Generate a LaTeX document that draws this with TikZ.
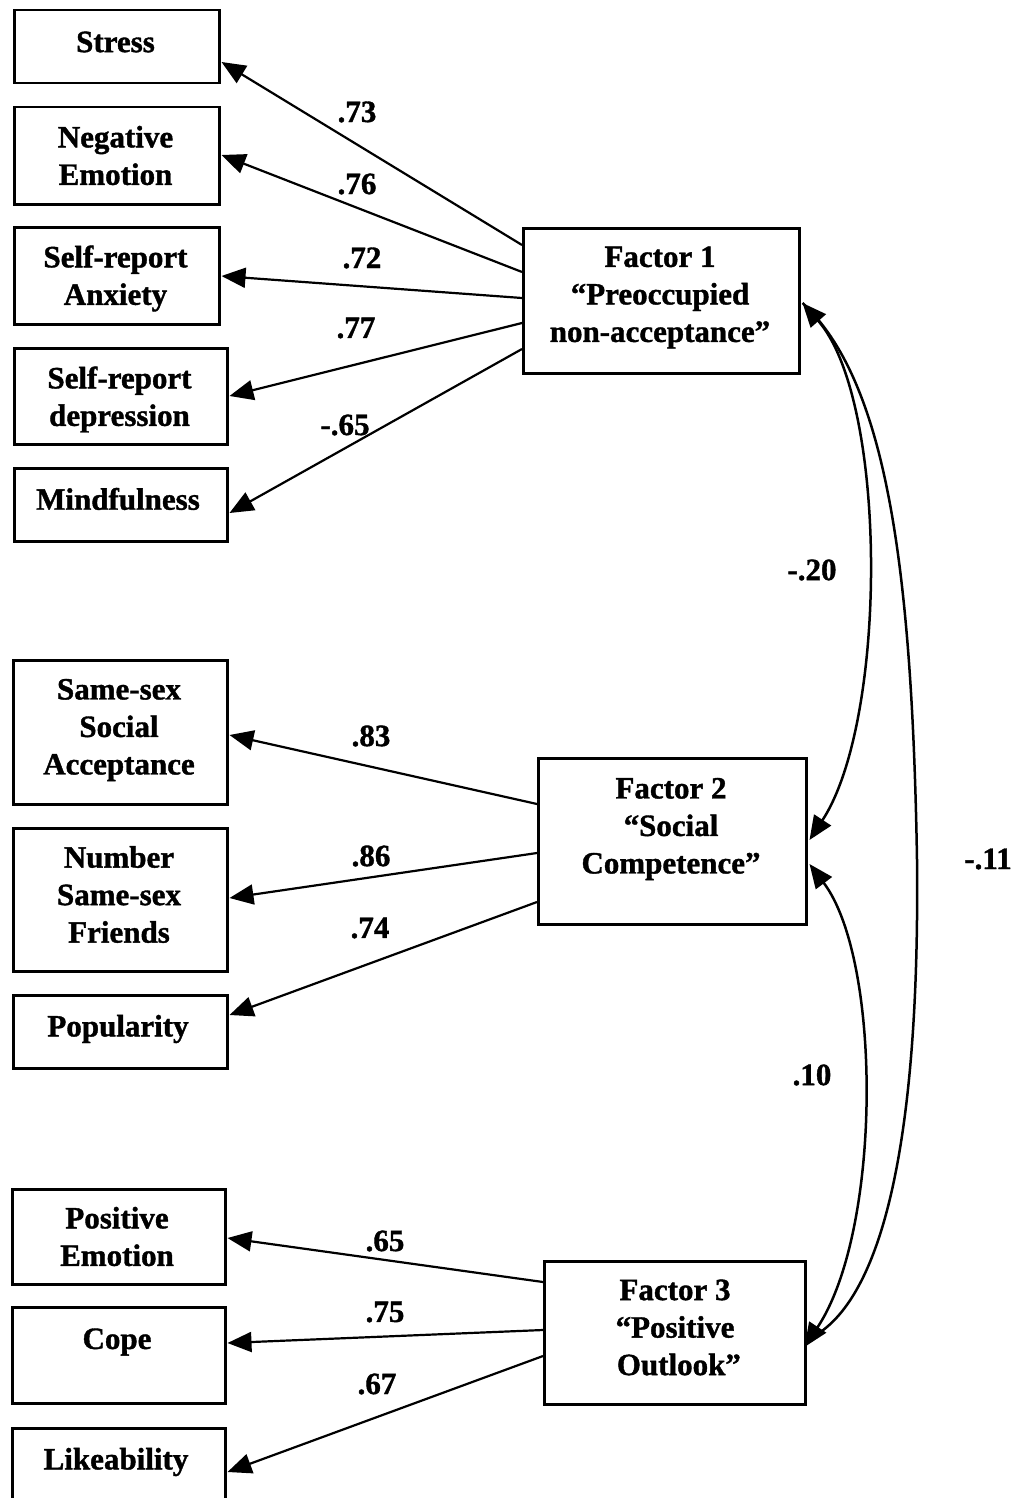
\documentclass[tikz,border=0pt]{standalone}
\usepackage{fontspec}
\setmainfont{Liberation Serif}[BoldFeatures={FakeBold=1.2}]
\usetikzlibrary{arrows.meta,calc}

\begin{document}
\begin{tikzpicture}[x=1pt,y=-1pt,
  varbox/.style={draw, line width=2.5pt, rectangle, inner sep=0pt, anchor=north west},
  boxtext/.style={align=center, inner sep=0pt, font=\fontsize{31}{37.5}\selectfont\bfseries},
  coef/.style={inner sep=0pt, font=\fontsize{31}{37.5}\selectfont\bfseries},
  load/.style={line width=2.2pt, -{Triangle[length=24pt,width=20pt]}},
  cov/.style={line width=2.5pt, {Triangle[length=24pt,width=20pt]}-{Triangle[length=24pt,width=20pt]}},
  covplain/.style={line width=2.5pt}
]
\clip (0,0) rectangle (1015,1498);

% observed variables, first factor
\node[varbox, minimum width=205pt, minimum height=73pt] (st) at (13,9) {};
\node[varbox, minimum width=205pt, minimum height=97pt] (ne) at (13,106) {};
\node[varbox, minimum width=205pt, minimum height=97pt] (an) at (13,226) {};
\node[varbox, minimum width=213pt, minimum height=96pt] (de) at (13,347) {};
\node[varbox, minimum width=213pt, minimum height=73pt] (mi) at (13,467) {};
% observed variables, second factor
\node[varbox, minimum width=214pt, minimum height=144pt] (sa) at (12,659) {};
\node[varbox, minimum width=214pt, minimum height=143pt] (nf) at (12,827) {};
\node[varbox, minimum width=214pt, minimum height=73pt] (po) at (12,994) {};
% observed variables, third factor
\node[varbox, minimum width=213pt, minimum height=95pt] (pe) at (11,1188) {};
\node[varbox, minimum width=213pt, minimum height=96pt] (co) at (11,1306) {};
\node[varbox, minimum width=213pt, minimum height=92pt] (li) at (11,1427) {};
% latent factors
\node[varbox, minimum width=276pt, minimum height=145pt] (f1) at (522,227) {};
\node[varbox, minimum width=268pt, minimum height=166pt] (f2) at (537,757) {};
\node[varbox, minimum width=261pt, minimum height=143pt] (f3) at (543,1260) {};

% box texts
\node[boxtext] (st-t) at (115.5,42) {Stress};
\node[boxtext] (ne-t) at (115.5,155.5) {Negative\\Emotion};
\node[boxtext] (an-t) at (115.5,278.5) {Self-report\\Anxiety};
\node[boxtext] (de-t) at (119.5,399.5) {Self-report\\depression};
\node[boxtext] (mi-t) at (118,499) {Mindfulness};
\node[boxtext] (sa-t) at (119,730) {Same-sex\\Social\\Acceptance};
\node[boxtext] (nf-t) at (119,894.5) {Number\\Same-sex\\Friends};
\node[boxtext] (po-t) at (118,1029) {Popularity};
\node[boxtext] (pe-t) at (117,1236.5) {Positive\\Emotion};
\node[boxtext] (co-t) at (117,1342) {Cope};
\node[boxtext] (li-t) at (116,1462) {Likeability};
\node[boxtext] (f1-t) at (660,297.5) {Factor 1\\“Preoccupied\\non-acceptance”};
\node[boxtext] (f2-t) at (671,829) {Factor 2\\“Social\\Competence”};
\node[boxtext] (f3-t) at (675,1327.5) {Factor 3\\“Positive\\\ Outlook”};

% loadings of factor 1
\draw[load] ($(f1.north west)+(0,18)$)  -- ($(st.north east)+(1,53)$);
\draw[load] ($(f1.north west)+(0,45)$)  -- ($(ne.north east)+(1,49)$);
\draw[load] ($(f1.north west)+(0,71)$)  -- ($(an.north east)+(1,50)$);
\draw[load] ($(f1.north west)+(0,96)$)  -- ($(de.north east)+(1,49)$);
\draw[load] ($(f1.north west)+(0,122)$) -- ($(mi.north east)+(1,46)$);
% loadings of factor 2
\draw[load] ($(f2.north west)+(0,47)$)  -- ($(sa.north east)+(1,76)$);
\draw[load] ($(f2.north west)+(0,96)$)  -- ($(nf.north east)+(1,71)$);
\draw[load] ($(f2.north west)+(0,145)$) -- ($(po.north east)+(1,21)$);
% loadings of factor 3
\draw[load] ($(f3.north west)+(0,22)$)  -- ($(pe.north east)+(1,50)$);
\draw[load] ($(f3.north west)+(0,70)$)  -- ($(co.north east)+(1,37)$);
\draw[load] ($(f3.north west)+(0,96)$)  -- ($(li.north east)+(1,45)$);

% loading coefficients
\node[coef] (c-st) at (357,112) {.73};
\node[coef] (c-ne) at (357,184) {.76};
\node[coef] (c-an) at (362,258) {.72};
\node[coef] (c-de) at (356,328) {.77};
\node[coef] (c-mi) at (345,425) {-.65};
\node[coef] (c-sa) at (371,736) {.83};
\node[coef] (c-nf) at (371,856) {.86};
\node[coef] (c-po) at (370,928) {.74};
\node[coef] (c-pe) at (385,1241) {.65};
\node[coef] (c-co) at (385,1312) {.75};
\node[coef] (c-li) at (377,1384) {.67};

% factor correlations
\coordinate (f1tip)  at ($(f1.north east)+(2,76)$);
\coordinate (f2tipA) at ($(f2.north east)+(2,83)$);
\coordinate (f2tipB) at ($(f2.north east)+(2,107)$);
\coordinate (f3tip)  at ($(f3.north east)+(-2,87)$);
\coordinate (f3end)  at ($(f3.north east)+(14,72)$);

\draw[covplain] (f1tip) .. controls (885,380) and (912,560) .. (917,860)
                        .. controls (920,1150) and (880,1290) .. (f3end);
\draw[cov] (f1tip) .. controls (888,400) and (888,720) .. (f2tipA);
\draw[cov] (f2tipB) .. controls (882,960) and (882,1230) .. (f3tip);

\node[coef] (r12) at (812,570) {-.20};
\node[coef] (r23) at (812,1075) {.10};
\node[coef] (r13) at (988,859) {-.11};
\end{tikzpicture}
\end{document}
